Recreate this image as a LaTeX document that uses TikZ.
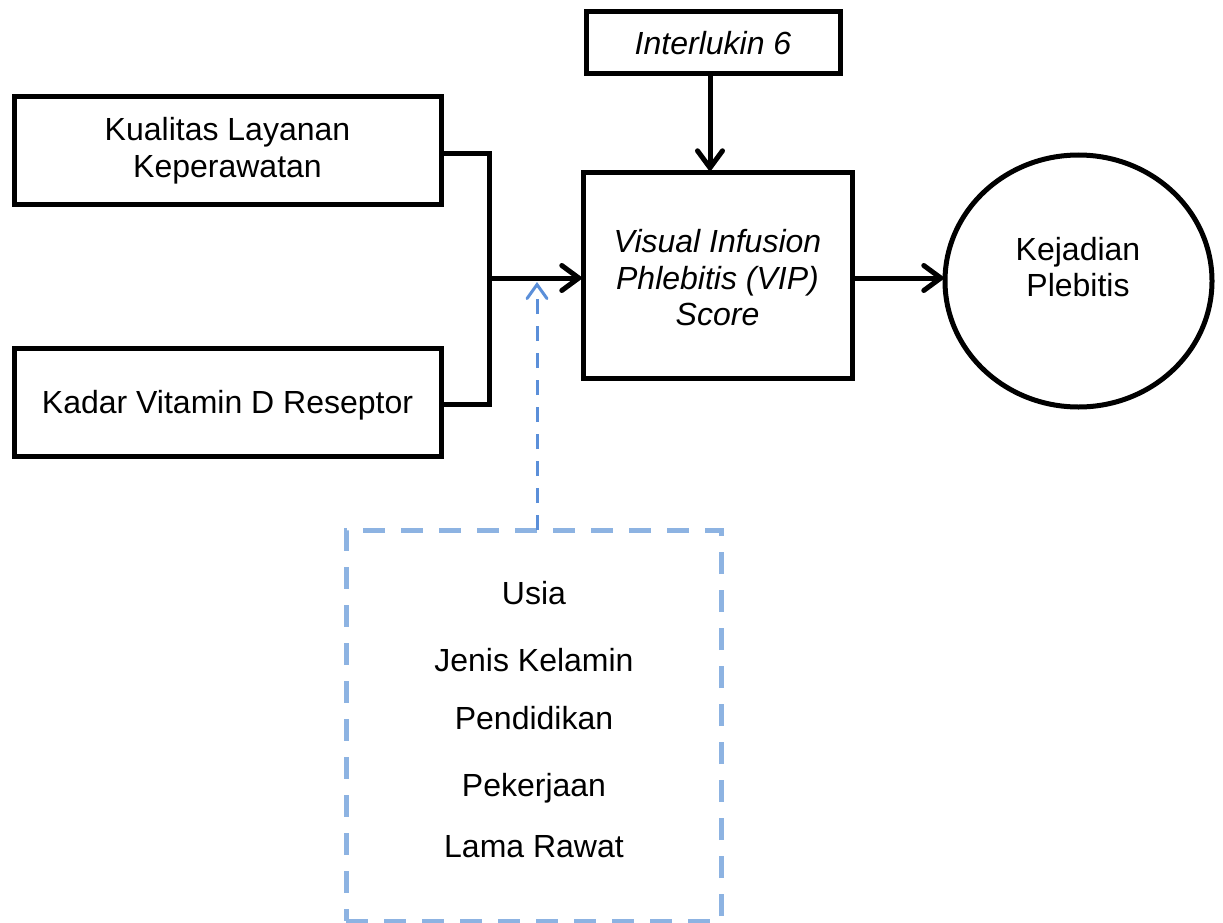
\documentclass[tikz,border=0pt]{standalone}
\usepackage{fontspec}
\setmainfont{Liberation Sans}
\usetikzlibrary{arrows.meta,shapes.geometric}
\definecolor{dashbox}{HTML}{8DB3E2}
\definecolor{dasharr}{HTML}{5B8FD9}
\begin{document}
\begin{tikzpicture}[x=1pt,y=-1pt,
  every node/.style={font=\fontsize{32}{36.5}\selectfont, align=center, inner sep=0pt, outer sep=0pt},
  lbl/.style={yshift=-3pt},
  blk/.style={draw=black, line width=5pt, rectangle},
  conn/.style={draw=black, line width=5pt},
  arr/.style={conn, -{Straight Barb[length=17pt,width=25pt,line cap=round]}},
  dbox/.style={draw=dashbox, line width=5pt, dash pattern=on 22pt off 16pt, rectangle},
  darr/.style={draw=dasharr, line width=3pt, dash pattern=on 15pt off 12pt, -{Straight Barb[length=14pt,width=20pt,line cap=round]}}
]
\useasboundingbox (0,0) rectangle (1223,923);
\node[blk, minimum width=427pt, minimum height=107pt] (kual) at (227.5,150.5) {Kualitas Layanan\\Keperawatan};
\node[blk, minimum width=427pt, minimum height=108pt] (kadar) at (227.5,402) {};
\node[lbl] (kadart) at (kadar.center) {Kadar Vitamin D Reseptor};
\node[blk, minimum width=269pt, minimum height=206pt] (vip) at (717.5,275) {};
\node[lbl] (vipt) at (vip.center) {\itshape Visual Infusion\\\itshape Phlebitis (VIP)\\\itshape Score};
\node[blk, minimum width=254pt, minimum height=62pt] (il) at (713,43) {\itshape Interlukin 6};
\node[ellipse, draw=black, line width=5pt, minimum width=267pt, minimum height=252pt] (kej) at (1078.5,281) {};
\node (kejt) at (1078,267) {Kejadian\\Plebitis};
\node[dbox, minimum width=375pt, minimum height=391pt] (conf) at (533.5,725.5) {};
\node (t1) at (534,593) {Usia};
\node (t2) at (534,660) {Jenis Kelamin};
\node (t3) at (534,718) {Pendidikan};
\node (t4) at (534,788) {Pekerjaan};
\node (t5) at (534,847) {Lama Rawat};
\coordinate (jt) at (489,153);
\coordinate (jb) at (489,404);
\coordinate (jm) at (489,278);
\coordinate (dt) at (537,282);
\draw[conn] (kual.east |- jt) -- (jt) -- (jb) -- (kadar.east |- jb);
\draw[arr] (jm) -- (vip.west |- jm);
\draw[arr] (il.south -| 710,0) -- (vip.north -| 710,0);
\draw[arr] (vip.east |- 0,278) -- (kej.west |- 0,278);
\draw[darr] (conf.north -| dt) -- (dt);
\end{tikzpicture}
\end{document}
